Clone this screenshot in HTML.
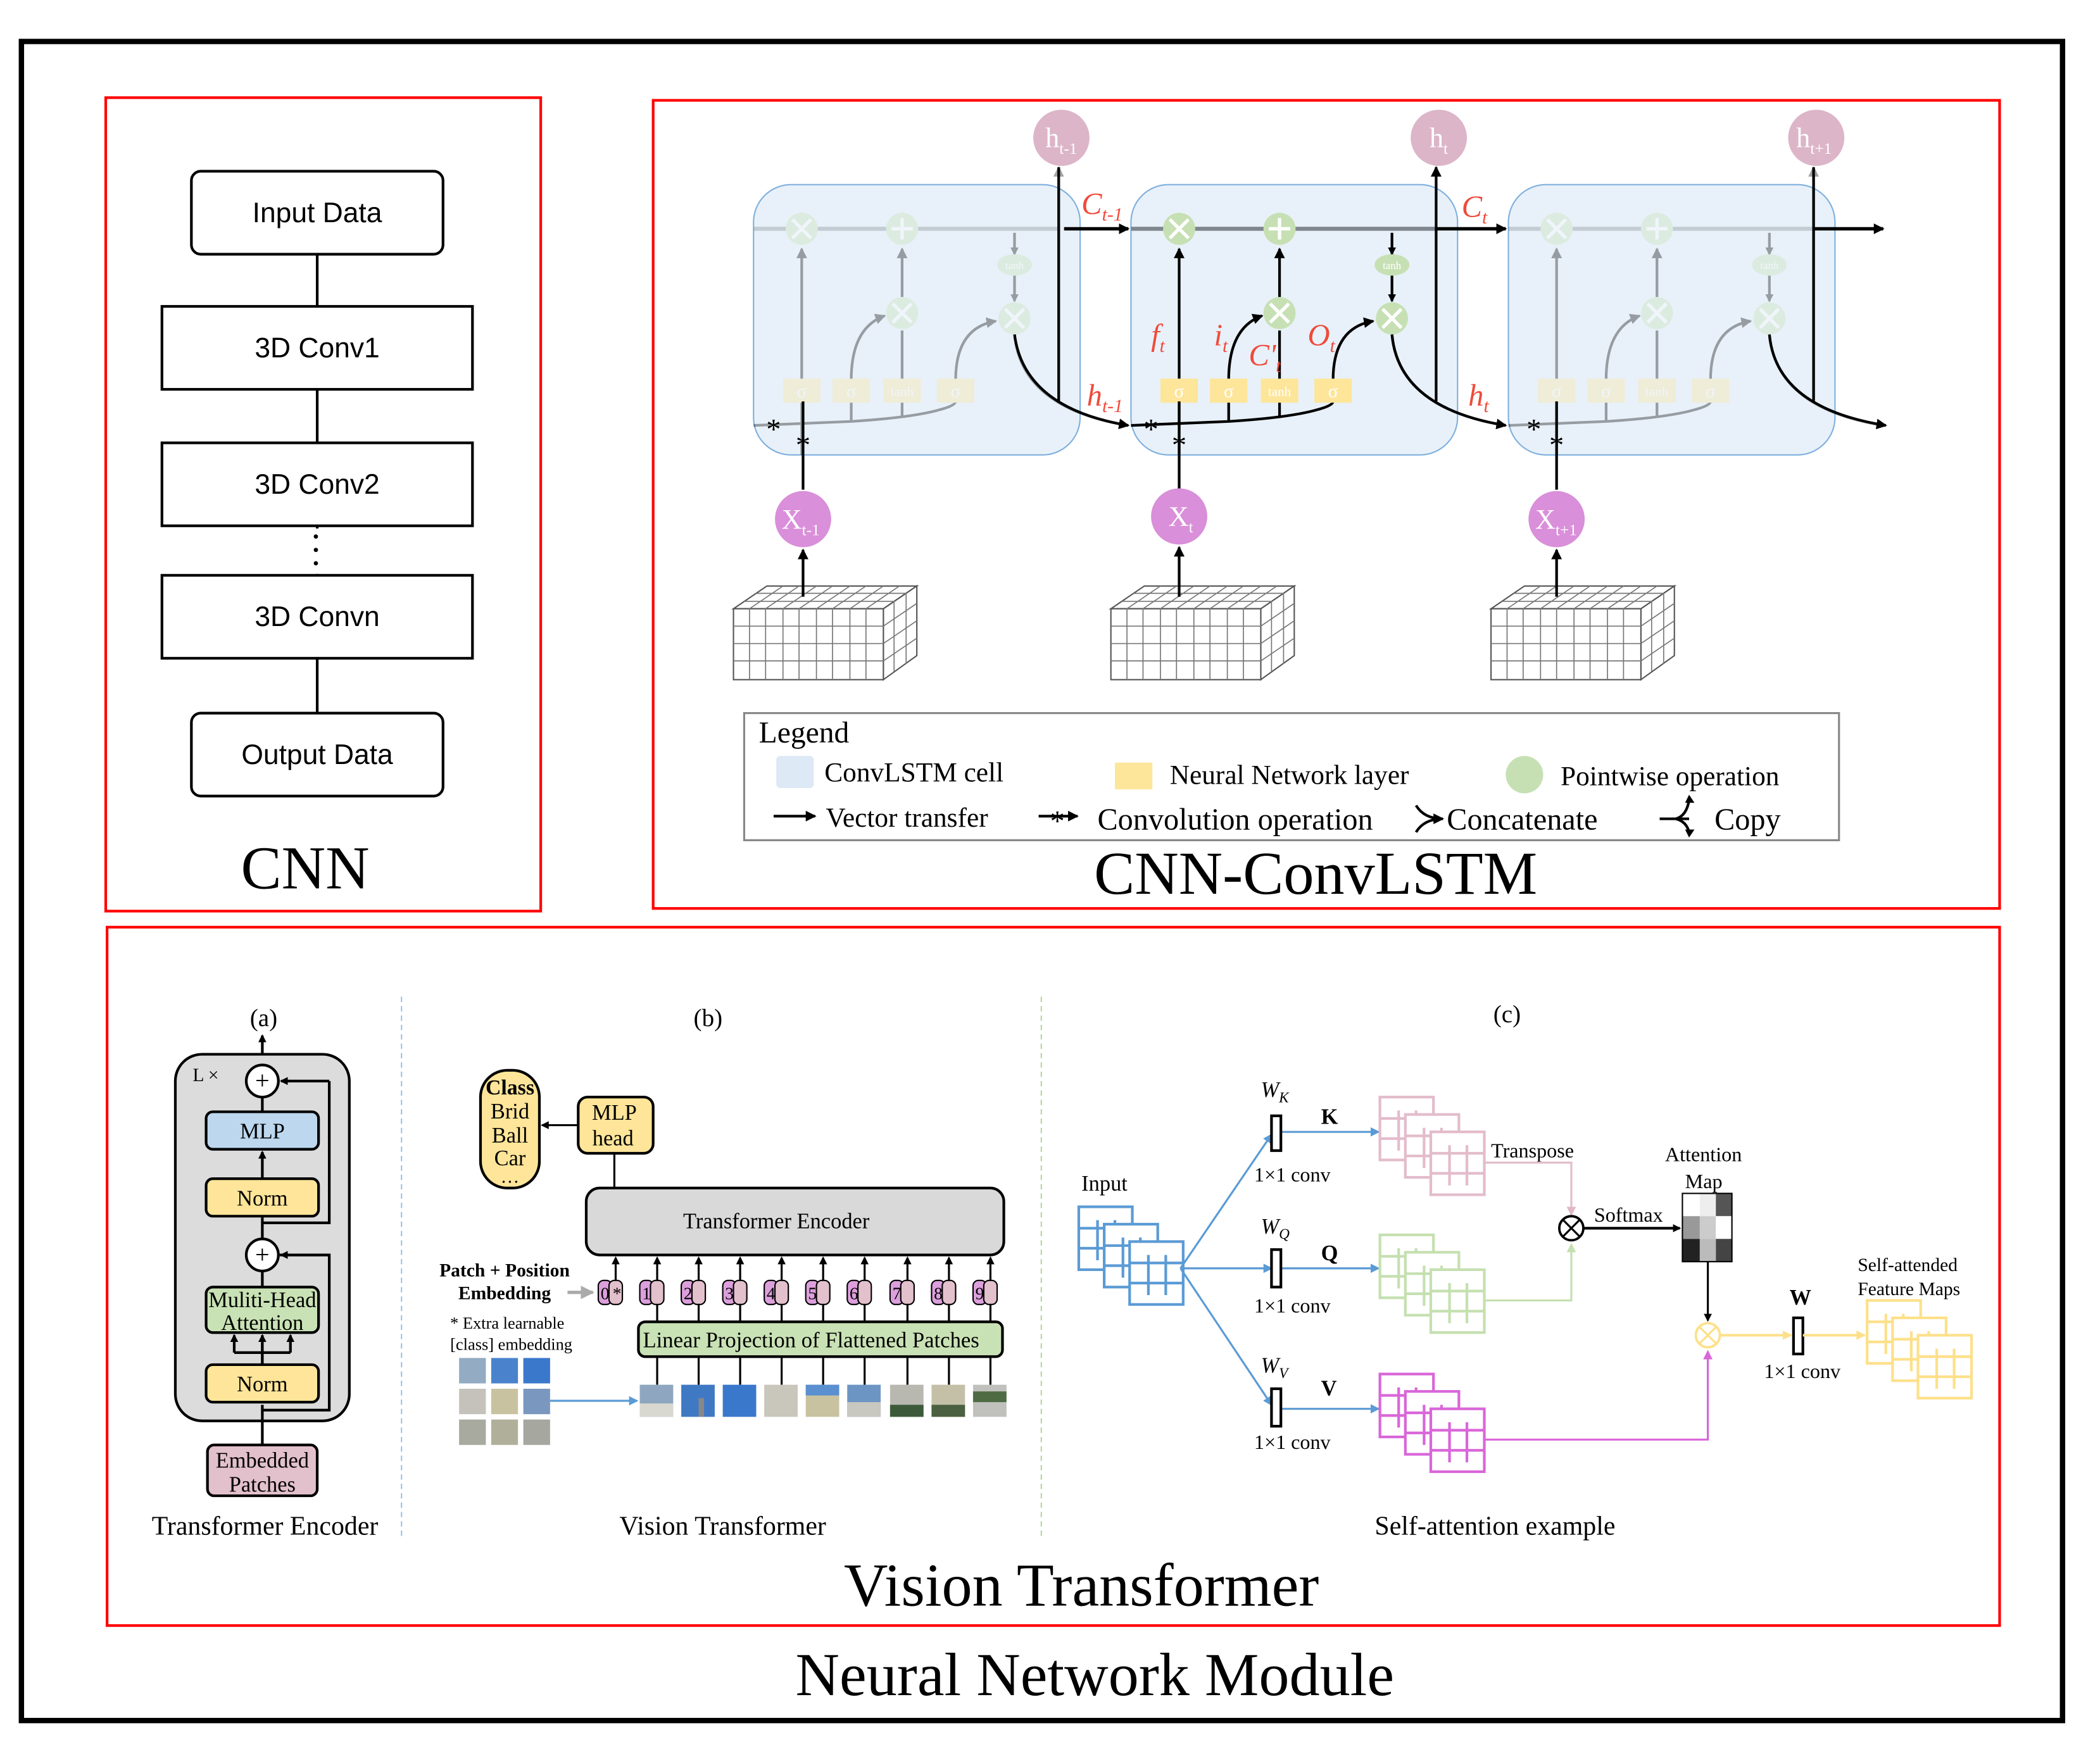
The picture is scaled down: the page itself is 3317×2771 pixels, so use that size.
<!DOCTYPE html>
<html><head><meta charset="utf-8"><style>
html,body{margin:0;padding:0;background:#fff}
svg{display:block}
text{font-family:"Liberation Serif",serif}
.sans{font-family:"Liberation Sans",sans-serif}
</style></head><body>
<svg width="3317" height="2771" viewBox="0 0 1569 1311" preserveAspectRatio="none" xmlns="http://www.w3.org/2000/svg">
<defs>
<marker id="ah" markerWidth="8" markerHeight="8" refX="7" refY="4" orient="auto" markerUnits="userSpaceOnUse"><path d="M0,0 L8,4 L0,8 z" fill="#000"/></marker>
<marker id="ahs" markerWidth="6" markerHeight="6" refX="5" refY="3" orient="auto" markerUnits="userSpaceOnUse"><path d="M0,0 L6,3 L0,6 z" fill="#000"/></marker>
<marker id="ahb" markerWidth="7" markerHeight="7" refX="6" refY="3.5" orient="auto" markerUnits="userSpaceOnUse"><path d="M0,0 L7,3.5 L0,7 z" fill="#5b9bd5"/></marker>
<marker id="ahp" markerWidth="7" markerHeight="7" refX="6" refY="3.5" orient="auto" markerUnits="userSpaceOnUse"><path d="M0,0 L7,3.5 L0,7 z" fill="#e0b8c8"/></marker>
<marker id="ahg" markerWidth="7" markerHeight="7" refX="6" refY="3.5" orient="auto" markerUnits="userSpaceOnUse"><path d="M0,0 L7,3.5 L0,7 z" fill="#c5e0b0"/></marker>
<marker id="ahm" markerWidth="7" markerHeight="7" refX="6" refY="3.5" orient="auto" markerUnits="userSpaceOnUse"><path d="M0,0 L7,3.5 L0,7 z" fill="#d966d9"/></marker>
<marker id="ahy" markerWidth="7" markerHeight="7" refX="6" refY="3.5" orient="auto" markerUnits="userSpaceOnUse"><path d="M0,0 L7,3.5 L0,7 z" fill="#fde08a"/></marker>
<marker id="ahgr" markerWidth="10" markerHeight="10" refX="9" refY="5" orient="auto" markerUnits="userSpaceOnUse"><path d="M0,0 L10,5 L0,10 z" fill="#aaa"/></marker>

<g id="cellin">
 <line x1="0" y1="171" x2="228" y2="171" stroke="#7f868e" stroke-width="3"/>
 <line x1="36" y1="284" x2="36" y2="186" stroke="#000" stroke-width="2" marker-end="url(#ah)"/>
 <line x1="111" y1="222" x2="111" y2="186" stroke="#000" stroke-width="2" marker-end="url(#ah)"/>
 <line x1="111" y1="284" x2="111" y2="247" stroke="#000" stroke-width="2"/>
 <path d="M73,284 Q73,245 98,236" fill="none" stroke="#000" stroke-width="2" marker-end="url(#ah)"/>
 <path d="M151,284 Q151,245 181,240" fill="none" stroke="#000" stroke-width="2" marker-end="url(#ah)"/>
 <line x1="195" y1="174" x2="195" y2="190" stroke="#000" stroke-width="2" marker-end="url(#ahs)"/>
 <line x1="195" y1="206" x2="195" y2="225" stroke="#000" stroke-width="2" marker-end="url(#ahs)"/>
 <path d="M0,318 L73,315 Q120,312 140,306 Q151,303 151,300" fill="none" stroke="#000" stroke-width="2"/>
 <line x1="73" y1="300" x2="73" y2="315" stroke="#000" stroke-width="2"/>
 <line x1="111" y1="300" x2="111" y2="312" stroke="#000" stroke-width="2"/>
 <line x1="36" y1="300" x2="36" y2="340" stroke="#000" stroke-width="2"/>
 <circle cx="36" cy="171" r="12" fill="#c6e0b4"/>
 <circle cx="111" cy="171" r="12" fill="#c6e0b4"/>
 <circle cx="111" cy="234" r="12" fill="#c6e0b4"/>
 <circle cx="195" cy="238" r="12" fill="#c6e0b4"/>
 <path d="M29,164 L43,178 M43,164 L29,178 M104,227 L118,241 M118,227 L104,241 M188,231 L202,245 M202,231 L188,245 M111,163 L111,179 M103,171 L119,171" stroke="#fff" stroke-width="2.5"/>
 <ellipse cx="195" cy="198" rx="13" ry="8" fill="#c6e0b4"/>
 <text x="195" y="201" font-size="8" fill="#fff" text-anchor="middle">tanh</text>
 <rect x="22" y="283" width="28" height="18" fill="#fde59a"/>
 <rect x="59" y="283" width="28" height="18" fill="#fde59a"/>
 <rect x="97" y="283" width="28" height="18" fill="#fde59a"/>
 <rect x="137" y="283" width="28" height="18" fill="#fde59a"/>
 <text x="36" y="297" font-size="14" fill="#fff" text-anchor="middle">σ</text>
 <text x="73" y="297" font-size="14" fill="#fff" text-anchor="middle">σ</text>
 <text x="111" y="296" font-size="10" fill="#fff" text-anchor="middle">tanh</text>
 <text x="151" y="297" font-size="14" fill="#fff" text-anchor="middle">σ</text>
 <path d="M195,250 Q200,305 280,318" fill="none" stroke="#000" stroke-width="2"/>
 <line x1="228" y1="300" x2="228" y2="125" stroke="#000" stroke-width="2" marker-end="url(#ah)"/>
</g>

<g id="block">
 <polygon points="548,455 573,438 685,438 660,455" fill="#fff" stroke="#555" stroke-width="1"/>
 <polygon points="660,455 685,438 685,490 660,508" fill="#fff" stroke="#555" stroke-width="1"/>
 <rect x="548" y="455" width="112" height="53" fill="#fff" stroke="#555" stroke-width="1"/>
 <path d="M548,468 H660 M548,481 H660 M548,494 H660 M560,455 V508 M572,455 V508 M585,455 V508 M597,455 V508 M610,455 V508 M622,455 V508 M635,455 V508 M647,455 V508 M556,449.5 H668 M565,443.5 H677 M560,455 L585,438 M572,455 L597,438 M585,455 L610,438 M597,455 L622,438 M610,455 L635,438 M622,455 L647,438 M635,455 L660,438 M647,455 L672,438 M668,449 V502 M677,443 V496 M660,468 L685,451 M660,481 L685,464 M660,494 L685,477" stroke="#777" stroke-width="0.8" fill="none"/>
</g>

<g id="sheet"><rect x="0" y="0" width="40" height="47" fill="#fff" stroke-width="2"/><path d="M0,16 H40 M0,31 H40 M14,10 V40 M27,10 V40" stroke-width="2" fill="none"/></g>
<g id="stack"><use href="#sheet"/><use href="#sheet" x="19" y="13"/><use href="#sheet" x="38" y="26"/></g>
</defs>

<rect x="0" y="0" width="1569" height="1311" fill="#fff"/>
<rect x="16" y="31" width="1525" height="1255" fill="none" stroke="#000" stroke-width="4"/>

<!-- CNN -->
<rect x="79" y="73" width="325" height="608" fill="none" stroke="#f00" stroke-width="2"/>
<line x1="237" y1="190" x2="237" y2="533" stroke="#000" stroke-width="2"/>
<rect x="143" y="128" width="188" height="62" rx="7" fill="#fff" stroke="#000" stroke-width="2"/>
<rect x="121" y="229" width="232" height="62" fill="#fff" stroke="#000" stroke-width="2"/>
<rect x="121" y="331" width="232" height="62" fill="#fff" stroke="#000" stroke-width="2"/>
<rect x="200" y="395" width="70" height="34" fill="#fff"/>
<circle cx="236" cy="401" r="1.6"/><circle cx="236" cy="411" r="1.6"/><circle cx="236" cy="421" r="1.6"/>
<rect x="121" y="430" width="232" height="62" fill="#fff" stroke="#000" stroke-width="2"/>
<rect x="143" y="533" width="188" height="62" rx="7" fill="#fff" stroke="#000" stroke-width="2"/>
<g class="sans" font-size="21" text-anchor="middle">
<text class="sans" x="237" y="166">Input Data</text>
<text class="sans" x="237" y="267">3D Conv1</text>
<text class="sans" x="237" y="369">3D Conv2</text>
<text class="sans" x="237" y="468">3D Convn</text>
<text class="sans" x="237" y="571">Output Data</text>
</g>
<text x="228" y="664" font-size="45.5" text-anchor="middle">CNN</text>

<!-- ConvLSTM -->
<rect x="488" y="75" width="1006" height="604" fill="none" stroke="#f00" stroke-width="2"/>
<rect x="563" y="138" width="244" height="202" rx="28" fill="#e8f1f9" stroke="#7fb0de" stroke-width="1"/>
<rect x="845" y="138" width="244" height="202" rx="28" fill="#e8f1f9" stroke="#7fb0de" stroke-width="1"/>
<rect x="1127" y="138" width="244" height="202" rx="28" fill="#e8f1f9" stroke="#7fb0de" stroke-width="1"/>
<use href="#cellin" x="563" opacity="0.35"/>
<use href="#cellin" x="845"/>
<use href="#cellin" x="1127" opacity="0.35"/>
<line x1="795" y1="171" x2="843" y2="171" stroke="#000" stroke-width="2.5" marker-end="url(#ah)"/>
<line x1="1073" y1="171" x2="1125" y2="171" stroke="#000" stroke-width="2.5" marker-end="url(#ah)"/>
<line x1="1355" y1="171" x2="1407" y2="171" stroke="#000" stroke-width="2.5" marker-end="url(#ah)"/>
<path d="M758,250 Q765,305 843,318" fill="none" stroke="#000" stroke-width="2" marker-end="url(#ah)"/>
<path d="M1040,250 Q1045,305 1125,318" fill="none" stroke="#000" stroke-width="2" marker-end="url(#ah)"/>
<path d="M1322,250 Q1327,305 1409,318" fill="none" stroke="#000" stroke-width="2" marker-end="url(#ah)"/>
<line x1="791" y1="300" x2="791" y2="125" stroke="#000" stroke-width="2"/>
<line x1="1355" y1="300" x2="1355" y2="125" stroke="#000" stroke-width="2"/>
<line x1="600" y1="366" x2="600" y2="300" stroke="#000" stroke-width="2"/>
<line x1="1163" y1="366" x2="1163" y2="300" stroke="#000" stroke-width="2"/>
<line x1="881" y1="366" x2="881" y2="300" stroke="#000" stroke-width="2"/>
<g font-size="22" text-anchor="middle">
<text x="578" y="328">*</text><text x="600" y="340">*</text>
<text x="860" y="328">*</text><text x="881" y="340">*</text>
<text x="1146" y="328">*</text><text x="1163" y="340">*</text>
</g>
<g fill="#f04a3a" font-style="italic" font-size="23">
<text x="808" y="160">C<tspan font-size="14" dy="5">t-1</tspan></text>
<text x="1092" y="162">C<tspan font-size="14" dy="5">t</tspan></text>
<text x="812" y="303">h<tspan font-size="14" dy="5">t-1</tspan></text>
<text x="1097" y="303">h<tspan font-size="14" dy="5">t</tspan></text>
<text x="860" y="258">f<tspan font-size="14" dy="5">t</tspan></text>
<text x="907" y="258">i<tspan font-size="14" dy="5">t</tspan></text>
<text x="933" y="273">C'<tspan font-size="14" dy="5">t</tspan></text>
<text x="977" y="258">O<tspan font-size="14" dy="5">t</tspan></text>
</g>
<g fill="#fff" font-size="21">
<circle cx="793" cy="103" r="21" fill="#dcb5c8"/><text x="781" y="110">h<tspan font-size="12" dy="5">t-1</tspan></text>
<circle cx="1075" cy="103" r="21" fill="#dcb5c8"/><text x="1068" y="110">h<tspan font-size="12" dy="5">t</tspan></text>
<circle cx="1357" cy="103" r="21" fill="#dcb5c8"/><text x="1342" y="110">h<tspan font-size="12" dy="5">t+1</tspan></text>
<circle cx="600" cy="388" r="21" fill="#d98fd9"/><text x="584" y="395">X<tspan font-size="12" dy="5">t-1</tspan></text>
<circle cx="881" cy="386" r="21" fill="#d98fd9"/><text x="873" y="393">X<tspan font-size="12" dy="5">t</tspan></text>
<circle cx="1163" cy="388" r="21" fill="#d98fd9"/><text x="1147" y="395">X<tspan font-size="12" dy="5">t+1</tspan></text>
</g>
<use href="#block"/>
<use href="#block" x="282"/>
<use href="#block" x="566"/>
<line x1="600" y1="446" x2="600" y2="411" stroke="#000" stroke-width="2" marker-end="url(#ah)"/>
<line x1="881" y1="446" x2="881" y2="409" stroke="#000" stroke-width="2" marker-end="url(#ah)"/>
<line x1="1163" y1="446" x2="1163" y2="411" stroke="#000" stroke-width="2" marker-end="url(#ah)"/>

<!-- legend -->
<rect x="556" y="533" width="818" height="95" fill="#fff" stroke="#888" stroke-width="1.5"/>
<text x="567" y="555" font-size="22.5">Legend</text>
<rect x="580" y="565" width="28" height="24" rx="3" fill="#dde9f5"/>
<text x="616" y="584" font-size="20.5">ConvLSTM cell</text>
<rect x="833" y="570" width="28" height="20" fill="#fde59a"/>
<text x="874" y="586" font-size="20.5">Neural Network layer</text>
<circle cx="1139" cy="579" r="14" fill="#c6e0b4"/>
<text x="1166" y="587" font-size="20.5">Pointwise operation</text>
<line x1="578" y1="610" x2="609" y2="610" stroke="#000" stroke-width="2" marker-end="url(#ah)"/>
<text x="617" y="618" font-size="20.5">Vector transfer</text>
<line x1="776" y1="610" x2="805" y2="610" stroke="#000" stroke-width="2" marker-end="url(#ah)"/>
<text x="790" y="621" font-size="22" text-anchor="middle">*</text>
<text x="820" y="620" font-size="22.8">Convolution operation</text>
<path d="M1058,602 Q1064,612 1078,612 M1058,622 Q1064,612 1078,612" fill="none" stroke="#000" stroke-width="2" marker-end="url(#ah)"/>
<text x="1081" y="620" font-size="22.8">Concatenate</text>
<path d="M1240,612 L1262,612 M1252,612 Q1260,610 1262,598 M1252,612 Q1260,614 1262,622" fill="none" stroke="#000" stroke-width="2"/>
<path d="M1259,600 L1262,594 L1266,600 z M1259,620 L1262,626 L1266,620 z"/>
<text x="1281" y="620" font-size="22.8">Copy</text>
<text x="983" y="668" font-size="45.5" text-anchor="middle">CNN-ConvLSTM</text>

<!-- Vision Transformer -->
<rect x="80" y="693" width="1414" height="522" fill="none" stroke="#f00" stroke-width="2"/>
<line x1="300" y1="745" x2="300" y2="1148" stroke="#9cc3e5" stroke-width="1" stroke-dasharray="4,3"/>
<line x1="778" y1="745" x2="778" y2="1148" stroke="#b5d6a0" stroke-width="1" stroke-dasharray="4,3"/>

<!-- (a) -->
<text x="197" y="767" font-size="18.5" text-anchor="middle">(a)</text>
<line x1="196" y1="797" x2="196" y2="774" stroke="#000" stroke-width="2" marker-end="url(#ahs)"/>
<rect x="131" y="788" width="130" height="274" rx="20" fill="#dcdcdc" stroke="#000" stroke-width="2"/>
<text x="144" y="808" font-size="14">L ×</text>
<line x1="196" y1="1080" x2="196" y2="1050" stroke="#000" stroke-width="2"/>
<path d="M196,1054 H246 V938 H209" fill="none" stroke="#000" stroke-width="2"/>
<path d="M196,1004 V1020" stroke="#000" stroke-width="2"/>
<line x1="246" y1="938" x2="210" y2="938" stroke="#000" stroke-width="2" marker-end="url(#ahs)"/>
<path d="M196,914 H246 V808" fill="none" stroke="#000" stroke-width="2"/>
<line x1="246" y1="808" x2="210" y2="808" stroke="#000" stroke-width="2" marker-end="url(#ahs)"/>
<line x1="196" y1="910" x2="196" y2="926" stroke="#000" stroke-width="2"/>
<line x1="196" y1="950" x2="196" y2="962" stroke="#000" stroke-width="2"/>
<line x1="196" y1="881" x2="196" y2="861" stroke="#000" stroke-width="2" marker-end="url(#ahs)"/>
<line x1="196" y1="831" x2="196" y2="820" stroke="#000" stroke-width="2"/>
<path d="M175,1011 H217" stroke="#000" stroke-width="2"/>
<line x1="196" y1="1020" x2="196" y2="998" stroke="#000" stroke-width="2" marker-end="url(#ahs)"/>
<line x1="175" y1="1011" x2="175" y2="998" stroke="#000" stroke-width="2" marker-end="url(#ahs)"/>
<line x1="217" y1="1011" x2="217" y2="998" stroke="#000" stroke-width="2" marker-end="url(#ahs)"/>
<circle cx="196" cy="808" r="12" fill="#fff" stroke="#000" stroke-width="2"/><text x="196" y="814" font-size="19" text-anchor="middle">+</text>
<circle cx="196" cy="938" r="12" fill="#fff" stroke="#000" stroke-width="2"/><text x="196" y="944" font-size="19" text-anchor="middle">+</text>
<rect x="154" y="831" width="84" height="28" rx="5" fill="#bdd7ee" stroke="#000" stroke-width="2"/>
<text x="196" y="851" font-size="16.3" text-anchor="middle">MLP</text>
<rect x="154" y="881" width="84" height="28" rx="5" fill="#fee599" stroke="#000" stroke-width="2"/>
<text x="196" y="901" font-size="16.3" text-anchor="middle">Norm</text>
<rect x="154" y="962" width="84" height="34" rx="5" fill="#c9e2b5" stroke="#000" stroke-width="2"/>
<text x="196" y="977" font-size="16.3" text-anchor="middle">Muliti-Head</text>
<text x="196" y="994" font-size="16.3" text-anchor="middle">Attention</text>
<rect x="154" y="1020" width="84" height="28" rx="5" fill="#fee599" stroke="#000" stroke-width="2"/>
<text x="196" y="1040" font-size="16.3" text-anchor="middle">Norm</text>
<rect x="155" y="1080" width="82" height="38" rx="5" fill="#e2c0cc" stroke="#000" stroke-width="2"/>
<text x="196" y="1097" font-size="16.3" text-anchor="middle">Embedded</text>
<text x="196" y="1115" font-size="16.3" text-anchor="middle">Patches</text>
<text x="198" y="1147" font-size="19.8" text-anchor="middle">Transformer Encoder</text>

<!-- (b) -->
<text x="529" y="767" font-size="18.5" text-anchor="middle">(b)</text>
<rect x="359" y="800" width="44" height="88" rx="20" fill="#fee599" stroke="#000" stroke-width="2"/>
<text x="381" y="818" font-size="16" font-weight="bold" text-anchor="middle">Class</text>
<text x="381" y="836" font-size="16.3" text-anchor="middle">Brid</text>
<text x="381" y="854" font-size="16.3" text-anchor="middle">Ball</text>
<text x="381" y="871" font-size="16.3" text-anchor="middle">Car</text>
<text x="381" y="884" font-size="14" text-anchor="middle">…</text>
<rect x="432" y="820" width="56" height="42" rx="7" fill="#fee599" stroke="#000" stroke-width="2"/>
<text x="459" y="837" font-size="16.3" text-anchor="middle">MLP</text>
<text x="458" y="856" font-size="16.3" text-anchor="middle">head</text>
<line x1="432" y1="841" x2="405" y2="841" stroke="#000" stroke-width="1.5" marker-end="url(#ahs)"/>
<line x1="459" y1="862" x2="459" y2="888" stroke="#000" stroke-width="1.5"/>
<rect x="438" y="888" width="312" height="50" rx="10" fill="#d9d9d9" stroke="#000" stroke-width="2"/>
<text x="580" y="918" font-size="16.3" text-anchor="middle">Transformer Encoder</text>
<text x="377" y="954" font-size="14" font-weight="bold" text-anchor="middle">Patch + Position</text>
<text x="377" y="971" font-size="14" font-weight="bold" text-anchor="middle">Embedding</text>
<line x1="424" y1="966" x2="443" y2="966" stroke="#aaa" stroke-width="2.5" marker-end="url(#ahgr)"/>
<text x="379" y="993" font-size="12.5" text-anchor="middle">* Extra learnable</text>
<text x="382" y="1009" font-size="12.5" text-anchor="middle">[class] embedding</text>
<g stroke="#000" stroke-width="1.5">
<line x1="460" y1="957" x2="460" y2="940" marker-end="url(#ahs)"/>
<line x1="491" y1="1035" x2="491" y2="940" marker-end="url(#ahs)"/>
<line x1="522" y1="1035" x2="522" y2="940" marker-end="url(#ahs)"/>
<line x1="553" y1="1035" x2="553" y2="940" marker-end="url(#ahs)"/>
<line x1="584" y1="1035" x2="584" y2="940" marker-end="url(#ahs)"/>
<line x1="615" y1="1035" x2="615" y2="940" marker-end="url(#ahs)"/>
<line x1="646" y1="1035" x2="646" y2="940" marker-end="url(#ahs)"/>
<line x1="678" y1="1035" x2="678" y2="940" marker-end="url(#ahs)"/>
<line x1="709" y1="1035" x2="709" y2="940" marker-end="url(#ahs)"/>
<line x1="740" y1="1035" x2="740" y2="940" marker-end="url(#ahs)"/>
</g>
<rect x="477" y="988" width="272" height="26" rx="5" fill="#c9e2b5" stroke="#000" stroke-width="2"/>
<text x="606" y="1007" font-size="16.4" text-anchor="middle">Linear Projection of Flattened Patches</text>
<g stroke="#000" stroke-width="1">
<rect x="447" y="957" width="10" height="18" rx="4" fill="#dc9fdc"/><rect x="455" y="957" width="10" height="18" rx="4" fill="#e2c0cc"/>
<rect x="478" y="957" width="10" height="18" rx="4" fill="#dc9fdc"/><rect x="486" y="957" width="10" height="18" rx="4" fill="#e2c0cc"/>
<rect x="509" y="957" width="10" height="18" rx="4" fill="#dc9fdc"/><rect x="517" y="957" width="10" height="18" rx="4" fill="#e2c0cc"/>
<rect x="540" y="957" width="10" height="18" rx="4" fill="#dc9fdc"/><rect x="548" y="957" width="10" height="18" rx="4" fill="#e2c0cc"/>
<rect x="571" y="957" width="10" height="18" rx="4" fill="#dc9fdc"/><rect x="579" y="957" width="10" height="18" rx="4" fill="#e2c0cc"/>
<rect x="602" y="957" width="10" height="18" rx="4" fill="#dc9fdc"/><rect x="610" y="957" width="10" height="18" rx="4" fill="#e2c0cc"/>
<rect x="633" y="957" width="10" height="18" rx="4" fill="#dc9fdc"/><rect x="641" y="957" width="10" height="18" rx="4" fill="#e2c0cc"/>
<rect x="665" y="957" width="10" height="18" rx="4" fill="#dc9fdc"/><rect x="673" y="957" width="10" height="18" rx="4" fill="#e2c0cc"/>
<rect x="696" y="957" width="10" height="18" rx="4" fill="#dc9fdc"/><rect x="704" y="957" width="10" height="18" rx="4" fill="#e2c0cc"/>
<rect x="727" y="957" width="10" height="18" rx="4" fill="#dc9fdc"/><rect x="735" y="957" width="10" height="18" rx="4" fill="#e2c0cc"/>
</g>
<g font-size="13" text-anchor="middle">
<text x="452" y="971">0</text><text x="461" y="971">*</text>
<text x="483" y="971">1</text><text x="514" y="971">2</text><text x="545" y="971">3</text><text x="576" y="971">4</text>
<text x="607" y="971">5</text><text x="638" y="971">6</text><text x="670" y="971">7</text><text x="701" y="971">8</text><text x="732" y="971">9</text>
</g>
<g>
<rect x="478" y="1035" width="25" height="24" fill="#8ea6bf"/><rect x="478" y="1049" width="25" height="10" fill="#d8d8d0"/>
<rect x="509" y="1035" width="25" height="24" fill="#3f79c4"/><rect x="522" y="1045" width="4" height="14" fill="#888"/>
<rect x="540" y="1035" width="25" height="24" fill="#3a78cc"/>
<rect x="571" y="1035" width="25" height="24" fill="#c9c6bc"/>
<rect x="602" y="1035" width="25" height="24" fill="#c8c2a0"/><rect x="602" y="1035" width="25" height="8" fill="#5a8fd0"/>
<rect x="633" y="1035" width="25" height="24" fill="#6d95c4"/><rect x="633" y="1048" width="25" height="11" fill="#c8c8c0"/>
<rect x="665" y="1035" width="25" height="24" fill="#b8b8b0"/><rect x="665" y="1050" width="25" height="9" fill="#3c5a3a"/>
<rect x="696" y="1035" width="25" height="24" fill="#c4c0a8"/><rect x="696" y="1050" width="25" height="9" fill="#4a6040"/>
<rect x="727" y="1035" width="25" height="24" fill="#c0c0bc"/><rect x="727" y="1040" width="25" height="8" fill="#4f6b44"/>
<rect x="343" y="1015" width="20" height="19" fill="#93abc3"/><rect x="367" y="1015" width="20" height="19" fill="#4a83cc"/><rect x="391" y="1015" width="20" height="19" fill="#3a78cc"/>
<rect x="343" y="1038" width="20" height="19" fill="#c4c2ba"/><rect x="367" y="1038" width="20" height="19" fill="#c8c2a0"/><rect x="391" y="1038" width="20" height="19" fill="#7a98bf"/>
<rect x="343" y="1061" width="20" height="19" fill="#a8aaa0"/><rect x="367" y="1061" width="20" height="19" fill="#b0b09a"/><rect x="391" y="1061" width="20" height="19" fill="#a6a8a0"/>
</g>
<line x1="411" y1="1047" x2="476" y2="1047" stroke="#5b9bd5" stroke-width="1.5" marker-end="url(#ahb)"/>
<text x="540" y="1147" font-size="19.8" text-anchor="middle">Vision Transformer</text>

<!-- (c) -->
<text x="1126" y="764" font-size="18.5" text-anchor="middle">(c)</text>
<text x="808" y="890" font-size="16.3">Input</text>
<use href="#stack" x="806" y="902" stroke="#5b9bd5"/>
<g stroke="#5b9bd5" stroke-width="1.5" fill="none">
<line x1="882" y1="948" x2="950" y2="848" marker-end="url(#ahb)"/>
<line x1="882" y1="948" x2="950" y2="948" marker-end="url(#ahb)"/>
<line x1="882" y1="948" x2="950" y2="1050" marker-end="url(#ahb)"/>
<line x1="957" y1="846" x2="1030" y2="846" marker-end="url(#ahb)"/>
<line x1="957" y1="948" x2="1030" y2="948" marker-end="url(#ahb)"/>
<line x1="957" y1="1053" x2="1030" y2="1053" marker-end="url(#ahb)"/>
</g>
<g fill="#fff" stroke="#000" stroke-width="2">
<rect x="950" y="834" width="7" height="26"/>
<rect x="950" y="934" width="7" height="28"/>
<rect x="950" y="1038" width="7" height="28"/>
<rect x="1340" y="985" width="7" height="27"/>
</g>
<g font-size="16.3" font-style="italic">
<text x="942" y="820">W<tspan font-size="11" dy="4">K</tspan></text>
<text x="942" y="922">W<tspan font-size="11" dy="4">Q</tspan></text>
<text x="942" y="1026">W<tspan font-size="11" dy="4">V</tspan></text>
</g>
<g font-size="16.3" font-weight="bold">
<text x="987" y="840">K</text><text x="987" y="942">Q</text><text x="987" y="1043">V</text><text x="1337" y="975">W</text>
</g>
<g font-size="15.2">
<text x="937" y="883">1×1 conv</text>
<text x="937" y="981">1×1 conv</text>
<text x="937" y="1083">1×1 conv</text>
<text x="1318" y="1030">1×1 conv</text>
<text x="1114" y="865">Transpose</text>
<text x="1191" y="913">Softmax</text>
<text x="1244" y="868">Attention</text>
<text x="1259" y="888">Map</text>
<text x="1388" y="950" font-size="14">Self-attended</text>
<text x="1388" y="968" font-size="14">Feature Maps</text>
</g>
<use href="#stack" x="1031" y="820" stroke="#e3bccb"/>
<use href="#stack" x="1031" y="923" stroke="#c5e0b0"/>
<use href="#stack" x="1031" y="1027" stroke="#d966d9"/>
<use href="#stack" x="1395" y="972" stroke="#fde08a"/>
<path d="M1108,869 H1174 V908" fill="none" stroke="#e3bccb" stroke-width="1.5" marker-end="url(#ahp)"/>
<path d="M1108,972 H1174 V930" fill="none" stroke="#c5e0b0" stroke-width="1.5" marker-end="url(#ahg)"/>
<path d="M1108,1076 H1276 V1010" fill="none" stroke="#d966d9" stroke-width="1.5" marker-end="url(#ahm)"/>
<circle cx="1174" cy="918" r="9" fill="#fff" stroke="#000" stroke-width="1.8"/>
<path d="M1168,912 L1180,924 M1180,912 L1168,924" stroke="#000" stroke-width="1.5"/>
<line x1="1183" y1="918" x2="1255" y2="918" stroke="#000" stroke-width="2" marker-end="url(#ahs)"/>
<g>
<rect x="1257" y="892" width="13" height="17" fill="#fff"/><rect x="1270" y="892" width="12" height="17" fill="#eee"/><rect x="1282" y="892" width="12" height="17" fill="#555"/>
<rect x="1257" y="909" width="13" height="17" fill="#999"/><rect x="1270" y="909" width="12" height="17" fill="#ccc"/><rect x="1282" y="909" width="12" height="17" fill="#fff"/>
<rect x="1257" y="926" width="13" height="17" fill="#222"/><rect x="1270" y="926" width="12" height="17" fill="#bbb"/><rect x="1282" y="926" width="12" height="17" fill="#444"/>
<rect x="1257" y="892" width="37" height="51" fill="none" stroke="#000" stroke-width="1"/>
</g>
<line x1="1276" y1="943" x2="1276" y2="987" stroke="#000" stroke-width="1.5" marker-end="url(#ahs)"/>
<circle cx="1276" cy="998" r="9" fill="#fff" stroke="#fde08a" stroke-width="1.8"/>
<path d="M1270,992 L1282,1004 M1282,992 L1270,1004" stroke="#fde08a" stroke-width="1.5"/>
<line x1="1285" y1="998" x2="1338" y2="998" stroke="#fde08a" stroke-width="2" marker-end="url(#ahy)"/>
<line x1="1347" y1="998" x2="1393" y2="998" stroke="#fde08a" stroke-width="2" marker-end="url(#ahy)"/>
<text x="1117" y="1147" font-size="19.8" text-anchor="middle">Self-attention example</text>

<text x="808" y="1200" font-size="45.5" text-anchor="middle">Vision Transformer</text>
<text x="818" y="1267" font-size="45.5" text-anchor="middle">Neural Network Module</text>
</svg>
</body></html>
